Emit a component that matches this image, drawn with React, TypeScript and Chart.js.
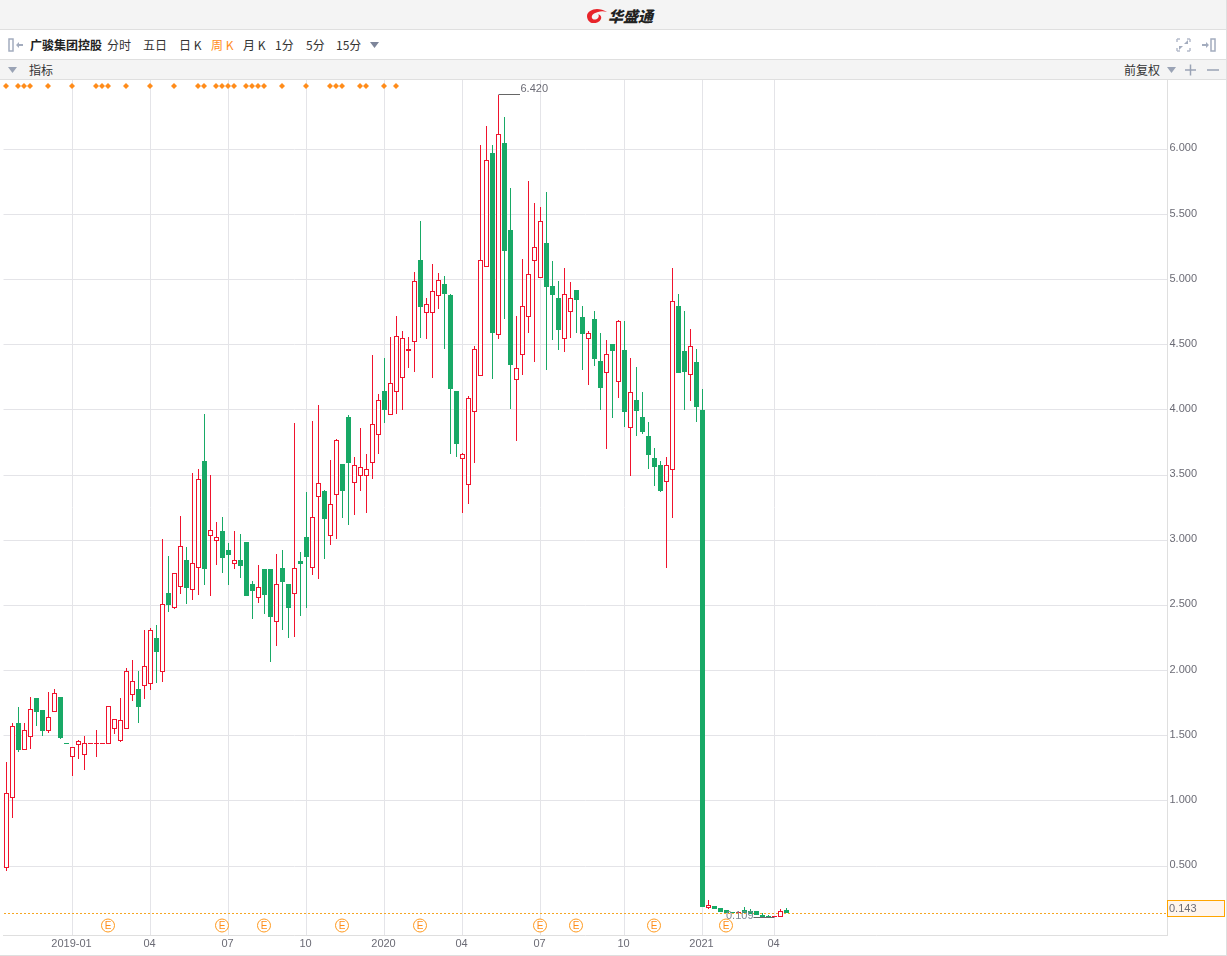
import React, { useEffect, useRef } from "react";
import { Chart, registerables } from "chart.js";

Chart.register(...registerables);

const opens = [0.482,1.020,1.597,1.388,1.488,1.789,1.697,1.534,1.680,1.797,1.445,1.334,1.426,1.350,1.436,1.436,1.436,1.434,1.549,1.462,1.549,1.810,1.858,1.884,1.894,2.250,1.987,2.595,2.478,2.639,2.848,2.616,2.785,3.608,3.030,2.992,3.071,2.925,2.815,2.848,2.987,2.664,2.554,2.779,2.779,2.370,2.787,2.664,2.585,2.841,3.025,2.785,3.330,3.378,3.035,3.345,3.585,3.946,3.437,3.491,3.491,3.591,3.805,4.145,3.959,4.135,4.243,4.450,4.519,5.151,4.742,4.742,4.872,4.967,4.882,4.145,3.621,3.422,3.982,4.258,5.099,5.972,4.573,6.049,5.381,4.228,4.419,4.711,5.141,5.010,5.281,4.951,4.859,4.542,4.749,4.921,4.713,4.542,4.698,4.376,4.281,4.506,4.212,4.460,3.859,4.076,3.946,3.800,3.631,3.577,3.445,3.537,4.798,4.452,4.266,4.368,4.000,0.178,0.193,0.178,0.162,0.147,0.141,0.162,0.152,0.152,0.124,0.116,0.109,0.109,0.162];
const highs = [1.298,1.595,1.720,1.595,1.797,1.789,1.697,1.835,1.858,1.797,1.445,1.411,1.467,1.498,1.442,1.544,1.442,1.726,1.626,1.789,2.020,2.081,1.997,2.311,2.324,2.350,3.007,2.879,2.746,3.186,2.948,3.516,3.547,3.969,3.501,3.140,3.178,2.979,3.071,3.048,2.987,2.687,2.810,2.779,2.779,2.894,2.925,2.664,3.900,2.910,3.370,3.915,4.038,3.386,3.616,3.775,3.585,3.961,3.639,3.862,3.662,4.422,4.122,4.399,4.560,4.721,4.606,4.560,5.059,5.450,4.859,5.120,5.051,5.028,4.890,4.145,3.672,4.107,4.491,6.033,6.179,6.033,6.420,6.248,5.703,4.721,5.158,5.757,5.588,5.558,5.673,5.143,4.990,5.089,4.982,4.921,4.798,4.606,4.759,4.591,4.537,4.506,4.690,4.683,4.399,4.330,4.138,3.907,3.708,3.608,3.639,5.089,4.890,4.759,4.621,4.468,4.161,0.239,0.193,0.178,0.162,0.147,0.145,0.183,0.170,0.152,0.137,0.126,0.114,0.168,0.178];
const lows = [0.464,0.871,1.375,1.388,1.398,1.574,1.498,1.521,1.680,1.475,1.440,1.191,1.321,1.237,1.436,1.337,1.436,1.434,1.513,1.452,1.549,1.766,1.597,1.782,1.851,1.904,1.912,2.449,2.475,2.590,2.513,2.544,2.580,2.659,2.574,2.812,2.751,2.659,2.782,2.713,2.574,2.398,2.521,2.436,2.068,2.191,2.313,2.252,2.260,2.421,2.482,2.736,2.703,2.858,2.964,3.012,3.173,3.119,3.196,3.380,3.211,3.468,3.664,3.900,3.959,3.971,4.002,4.324,4.294,4.555,4.547,4.247,4.777,4.470,3.664,3.641,3.211,3.281,3.595,4.258,5.099,4.240,4.547,4.700,4.010,3.764,4.271,4.593,4.370,5.010,4.309,4.539,4.462,4.447,4.555,4.593,4.309,4.192,4.340,4.002,3.703,3.941,4.094,3.871,3.495,3.802,3.818,3.549,3.419,3.373,2.789,3.173,4.286,4.002,4.071,3.910,0.188,0.170,0.170,0.147,0.137,0.139,0.141,0.142,0.134,0.122,0.111,0.111,0.109,0.109,0.137];
const closes = [1.058,1.572,1.390,1.541,1.703,1.682,1.536,1.641,1.825,1.482,1.440,1.411,1.457,1.442,1.442,1.442,1.442,1.726,1.626,1.618,1.994,1.918,1.723,2.033,2.309,2.142,2.508,2.503,2.746,2.954,2.636,2.823,3.468,2.782,3.076,3.023,2.866,2.889,2.846,2.805,2.574,2.613,2.639,2.582,2.413,2.662,2.682,2.482,2.785,2.820,2.874,3.176,3.437,3.165,3.276,3.767,3.380,3.595,3.575,3.560,3.544,3.890,4.074,4.000,4.204,4.565,4.550,4.465,4.987,4.792,4.811,4.911,4.995,4.890,4.163,3.741,3.660,4.089,4.465,5.148,5.916,4.593,6.115,5.222,4.347,4.320,4.795,5.041,5.248,5.448,4.946,4.884,4.616,4.888,4.857,4.846,4.585,4.588,4.393,4.171,4.427,4.452,4.680,3.987,4.135,3.994,3.833,3.657,3.564,3.380,3.575,4.834,4.286,4.294,4.488,4.025,0.188,0.198,0.170,0.147,0.137,0.139,0.145,0.142,0.134,0.122,0.111,0.111,0.114,0.152,0.143];

const slotCount = 194;
const xTickIndexes = [11, 24, 37, 50, 63, 76, 89, 103, 116, 128];
const xTickLabels = ["2019-01", "04", "07", "10", "2020", "04", "07", "10", "2021", "04"];
const yTickValues = [0.5, 1, 1.5, 2, 2.5, 3, 3.5, 4, 4.5, 5, 5.5, 6];
const diamondIndexes = [0,2,3,4,7,11,15,16,17,20,24,28,32,33,35,36,37,38,40,41,42,43,46,50,54,55,56,59,60,63,65];
const earningsIndexes = [17,36,43,56,69,89,95,108,120];
const highestValue = 6.42;
const highestIndex = 82;
const lowestValue = 0.109;
const lowestIndex = 128;
const lastPrice = 0.143;

const RED = "#f0132d";
const GREEN = "#18a966";
const ORANGE = "#ff8c1a";
const GRID = "#e4e4e8";
const TEXT = "#6b6b75";
const FONT = "'Liberation Sans', Arial, sans-serif";
const CJK = "'Noto Sans CJK SC', 'Liberation Sans', sans-serif";

// Snap the library's bar elements to whole pixels so candles stay crisp.
const snapBars = {
  id: "snapBars",
  beforeDatasetsDraw(chart: any) {
    chart.getSortedVisibleDatasetMetas().forEach((meta: any) => {
      if (meta.type !== "bar") return;
      meta.data.forEach((el: any) => {
        const a = Math.round(el.y);
        let b = Math.round(el.base);
        if (a === b) b = a + 1;
        el.y = a;
        el.base = b;
      });
    });
  },
};

const annotate = {
  id: "annotate",
  beforeDatasetsDraw(chart: any) {
    const { ctx, chartArea, scales } = chart;
    const y = Math.round(scales.y.getPixelForValue(lastPrice)) + 0.5;
    ctx.save();
    ctx.strokeStyle = "#f5a623";
    ctx.lineWidth = 1;
    ctx.setLineDash([2, 2]);
    ctx.beginPath();
    ctx.moveTo(4, y);
    ctx.lineTo(chartArea.right, y);
    ctx.stroke();
    ctx.restore();
  },
  afterDraw(chart: any) {
    const { ctx, scales } = chart;
    const x = scales.x;
    const y = scales.y;
    ctx.save();

    // Signal diamonds along the top of the plot
    ctx.fillStyle = ORANGE;
    diamondIndexes.forEach((i) => {
      const dx = x.getPixelForValue(i) - 0.5;
      const dy = 86;
      const r = 3;
      ctx.beginPath();
      ctx.moveTo(dx, dy - r);
      ctx.lineTo(dx + r, dy);
      ctx.lineTo(dx, dy + r);
      ctx.lineTo(dx - r, dy);
      ctx.closePath();
      ctx.fill();
    });

    ctx.font = `11px ${FONT}`;
    ctx.textBaseline = "middle";

    // Highest / lowest callouts
    const hx = x.getPixelForValue(highestIndex);
    const hy = Math.round(y.getPixelForValue(highestValue)) - 0.5;
    ctx.strokeStyle = "#666666";
    ctx.lineWidth = 1;
    ctx.beginPath();
    ctx.moveTo(hx, hy);
    ctx.lineTo(hx + 21.5, hy);
    ctx.stroke();
    ctx.fillStyle = TEXT;
    ctx.textAlign = "left";
    ctx.fillText(highestValue.toFixed(3), hx + 22, hy - 6);

    const lx = x.getPixelForValue(lowestIndex);
    const ly = Math.round(y.getPixelForValue(lowestValue)) + 0.5;
    ctx.beginPath();
    ctx.moveTo(lx, ly);
    ctx.lineTo(lx - 21, ly);
    ctx.stroke();
    ctx.fillStyle = "#7f8794";
    ctx.textAlign = "right";
    ctx.fillText(lowestValue.toFixed(3), lx - 21, ly - 2);

    // Earnings markers
    ctx.textAlign = "center";
    ctx.font = `10px ${FONT}`;
    const eY = 925.5;
    earningsIndexes.forEach((i) => {
      const ex = x.getPixelForValue(i) - 0.5;
      ctx.beginPath();
      ctx.arc(ex, eY, 6.5, 0, Math.PI * 2);
      ctx.fillStyle = "#ffffff";
      ctx.fill();
      ctx.strokeStyle = "#ff9a1f";
      ctx.lineWidth = 1;
      ctx.stroke();
      ctx.fillStyle = "#ff8c1a";
      ctx.fillText("E", ex, eY + 0.5);
    });

    // Last price box
    ctx.fillStyle = "#fff5ec";
    ctx.fillRect(1167.5, 900.5, 57, 16);
    ctx.strokeStyle = "#ffa500";
    ctx.lineWidth = 1;
    ctx.strokeRect(1167.5, 900.5, 57, 16);
    ctx.fillStyle = TEXT;
    ctx.textAlign = "left";
    ctx.font = `11px ${FONT}`;
    ctx.fillText(lastPrice.toFixed(3), 1169, 908.5);
    ctx.restore();
  },
};

const Tri = ({ x, y, color = "#9aa3b5" }: { x: number; y: number; color?: string }) => (
  <svg style={{ position: "absolute", left: x, top: y }} width="9" height="6">
    <polygon points="0,0 9,0 4.5,6" fill={color} />
  </svg>
);

const Label = ({ x, y, text, color = "#333", bold = false }: { x: number; y: number; text: string; color?: string; bold?: boolean }) => (
  <span
    style={{
      position: "absolute",
      left: x,
      top: y,
      fontFamily: CJK,
      fontSize: 12,
      lineHeight: "16px",
      color,
      fontWeight: bold ? 700 : 400,
      whiteSpace: "nowrap",
    }}
  >
    {text}
  </span>
);

const Band = ({ top, height, bg }: { top: number; height: number; bg: string }) => (
  <div
    style={{
      position: "absolute",
      left: 0,
      top,
      width: 1227,
      height,
      background: bg,
      borderBottom: "1px solid #dfdfdf",
      boxSizing: "border-box",
    }}
  />
);

export default function App() {
  const ref = useRef<HTMLCanvasElement>(null);

  useEffect(() => {
    document.body.style.margin = "0";
    const bodies = opens.map((o, i) => [o, closes[i]]);
    const wicks = lows.map((l, i) => [l, highs[i]]);
    const isUp = (i: number) => closes[i] >= opens[i];
    const labels = Array.from({ length: slotCount }, (_, i) => String(i));

    const chart = new Chart(ref.current as HTMLCanvasElement, {
      type: "bar",
      plugins: [snapBars, annotate],
      data: {
        labels,
        datasets: [
          {
            data: bodies,
            grouped: false,
            barThickness: 5,
            inflateAmount: 0,
            borderWidth: (c: any) => (isUp(c.dataIndex) ? 1 : 0),
            borderSkipped: false,
            borderColor: RED,
            backgroundColor: (c: any) => (isUp(c.dataIndex) ? "#ffffff" : GREEN),
            order: 1,
          },
          {
            data: wicks,
            grouped: false,
            barThickness: 1,
            inflateAmount: 0,
            borderWidth: 0,
            backgroundColor: (c: any) => (isUp(c.dataIndex) ? RED : GREEN),
            order: 2,
          },
        ] as any,
      },
      options: {
        animation: false,
        responsive: false,
        events: [],
        layout: { padding: { left: 3.5, top: 80, right: 0, bottom: 0 } },
        plugins: { legend: { display: false }, tooltip: { enabled: false } },
        scales: {
          x: {
            type: "category",
            offset: true,
            afterBuildTicks: (axis: any) => {
              axis.ticks = xTickIndexes.map((value) => ({ value }));
            },
            afterFit: (axis: any) => {
              axis.height = 21;
            },
            ticks: {
              autoSkip: false,
              maxRotation: 0,
              color: TEXT,
              font: { family: FONT, size: 11 },
              padding: 2,
              labelOffset: -1,
              callback: (_: any, index: number) => xTickLabels[index],
            },
            grid: { color: GRID, offset: false, drawTicks: false },
            border: { color: "#dfdfdf" },
          },
          y: {
            position: "right",
            min: -0.0295,
            max: 6.532,
            afterBuildTicks: (axis: any) => {
              axis.ticks = yTickValues.map((value) => ({ value }));
            },
            afterFit: (axis: any) => {
              axis.width = 59.5;
            },
            ticks: {
              includeBounds: false,
              color: TEXT,
              font: { family: FONT, size: 11 },
              padding: 2,
              labelOffset: -1,
              callback: (v: any) => Number(v).toFixed(3),
            },
            grid: { color: GRID, drawTicks: false },
            border: { color: "#dfdfdf" },
          },
        },
      } as any,
    });
    return () => chart.destroy();
  }, []);

  return (
    <div style={{ position: "absolute", left: 0, top: 0, width: 1227, height: 956, overflow: "hidden", background: "#fff" }}>
      <canvas ref={ref} width={1227} height={956} style={{ position: "absolute", left: 0, top: 0, display: "block" }} />

      <Band top={0} height={30} bg="#f4f4f4" />
      <Band top={30} height={30} bg="#ffffff" />
      <Band top={60} height={20} bg="#f4f4f4" />
      <div style={{ position: "absolute", left: 1226, top: 0, width: 1, height: 956, background: "#dfdfdf" }} />
      <div style={{ position: "absolute", left: 0, top: 955, width: 1227, height: 1, background: "#dfdfdf" }} />

      {/* Logo */}
      <svg style={{ position: "absolute", left: 586, top: 7 }} width="22" height="17" viewBox="0 0 22 17">
        <path d="M1 9c0-4 5-7 10-7 3 0 7 1 10 3-3-.8-6-1-9 0C8 6 5 8 6 11c1 2 4 2 6 0 1-1 1-3 0-3.500 2 0 4 2 3 4.500-1.500 3.500-6 4.500-9 4C3 15.500 1 12 1 9z" fill="#e8242a" />
      </svg>
      <span
        style={{
          position: "absolute",
          left: 608,
          top: 6,
          fontFamily: CJK,
          fontWeight: 900,
          fontStyle: "italic",
          fontSize: 15,
          lineHeight: "20px",
          color: "#222",
          whiteSpace: "nowrap",
        }}
      >
        华盛通
      </span>

      {/* Toolbar */}
      <svg style={{ position: "absolute", left: 8, top: 38 }} width="16" height="14">
        <rect x="1" y="1" width="4" height="12" fill="none" stroke="#a3acbe" strokeWidth="1.500" />
        <polygon points="8,7 11,4 11,6 15,6 15,8 11,8 11,10" fill="#a3acbe" />
      </svg>
      <Label x={30} y={37} text="广骏集团控股" bold color="#222" />
      <Label x={107} y={37} text="分时" />
      <Label x={143} y={37} text="五日" />
      <Label x={179} y={37} text="日 K" />
      <Label x={211} y={37} text="周 K" color={ORANGE} />
      <Label x={243} y={37} text="月 K" />
      <Label x={275} y={37} text="1分" />
      <Label x={306} y={37} text="5分" />
      <Label x={336} y={37} text="15分" />
      <Tri x={370} y={42} color="#7d859a" />

      <svg style={{ position: "absolute", left: 1176, top: 38 }} width="15" height="14">
        <path d="M1 1h3M1 1v3M14 13h-3M14 13v-3M14 1h-3M14 1v3M1 13h3M1 13v-3" stroke="#b5bccb" strokeWidth="1.500" fill="none" />
        <polygon points="8,6 12,2 12,6" fill="#a3acbe" />
        <polygon points="7,8 3,12 3,8" fill="#a3acbe" />
      </svg>
      <svg style={{ position: "absolute", left: 1201, top: 38 }} width="16" height="14">
        <polygon points="8,7 5,4 5,6 1,6 1,8 5,8 5,10" fill="#a3acbe" />
        <rect x="10" y="1" width="4" height="12" fill="none" stroke="#a3acbe" strokeWidth="1.500" />
      </svg>

      {/* Indicator row */}
      <Tri x={8} y={67} />
      <Label x={29} y={62} text="指标" />
      <Label x={1124} y={62} text="前复权" />
      <Tri x={1167} y={67} />
      <svg style={{ position: "absolute", left: 1185, top: 64 }} width="12" height="12">
        <path d="M0 6h11M5.500 .5v11" stroke="#9aa3b5" strokeWidth="1.500" />
      </svg>
      <svg style={{ position: "absolute", left: 1207, top: 64 }} width="12" height="12">
        <path d="M0 6h12" stroke="#9aa3b5" strokeWidth="1.500" />
      </svg>
    </div>
  );
}
